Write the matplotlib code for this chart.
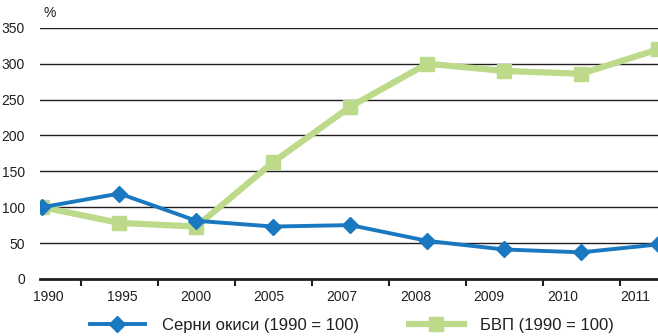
import matplotlib.pyplot as plt
import numpy as np

# Indices, 1990 = 100
years = ['1990', '1995', '2000', '2005', '2007', '2008', '2009', '2010', '2011']
sulfur_oxides = [100, 119, 81, 73, 75, 53, 41, 37, 48]
gdp = [100, 78, 73, 163, 240, 300, 290, 286, 320]

plt.rcParams['font.family'] = ['Liberation Sans', 'DejaVu Sans']

fig = plt.figure(figsize=(6.58, 3.36), dpi=100)
ax = fig.add_axes([0.061, 0.170, 0.939, 0.747])

x = np.arange(len(years))

ax.plot(x, gdp, color='#bcda8a', lw=4.5, marker='s', ms=10,
        label='БВП (1990 = 100)', zorder=3, clip_on=True)
ax.plot(x, sulfur_oxides, color='#1a78c0', lw=2.8, marker='D', ms=8,
        label='Серни окиси (1990 = 100)', zorder=4, clip_on=True)

ax.set_xlim(-0.03, 8.0)
ax.set_ylim(0, 350)

# horizontal grid
ax.set_yticks(range(0, 351, 50))
ax.grid(axis='y', color='#231f20', lw=1.0)
ax.set_axisbelow(True)
ax.tick_params(axis='y', length=0, labelsize=10, colors='#231f20', pad=11)

# ticks between categories, labels under them
ax.set_xticks(np.arange(0.5, len(years) - 0.5, 1))
ax.set_xticklabels([])
ax.tick_params(axis='x', which='major', length=5, width=1.5, direction='out',
               color='#231f20')
ax.set_xticks(np.linspace(0.08, 7.71, len(years)), minor=True)
ax.set_xticklabels(years, minor=True)
ax.tick_params(axis='x', which='minor', length=0, labelsize=10,
               colors='#231f20', pad=8)

for s in ['top', 'right', 'left']:
    ax.spines[s].set_visible(False)
ax.spines['bottom'].set_linewidth(2)
ax.spines['bottom'].set_color('#231f20')

ax.text(0.005, 1.03, '%', transform=ax.transAxes, fontsize=10,
        color='#231f20', ha='left', va='bottom')

handles, labels = ax.get_legend_handles_labels()
fig.legend(handles[::-1], labels[::-1], loc='lower center',
           bbox_to_anchor=(0.535, -0.035), ncol=2, frameon=False,
           fontsize=12, handlelength=3.3, handletextpad=1.0,
           columnspacing=3.0, labelcolor='#231f20')

fig.savefig('out.png', dpi=100)
